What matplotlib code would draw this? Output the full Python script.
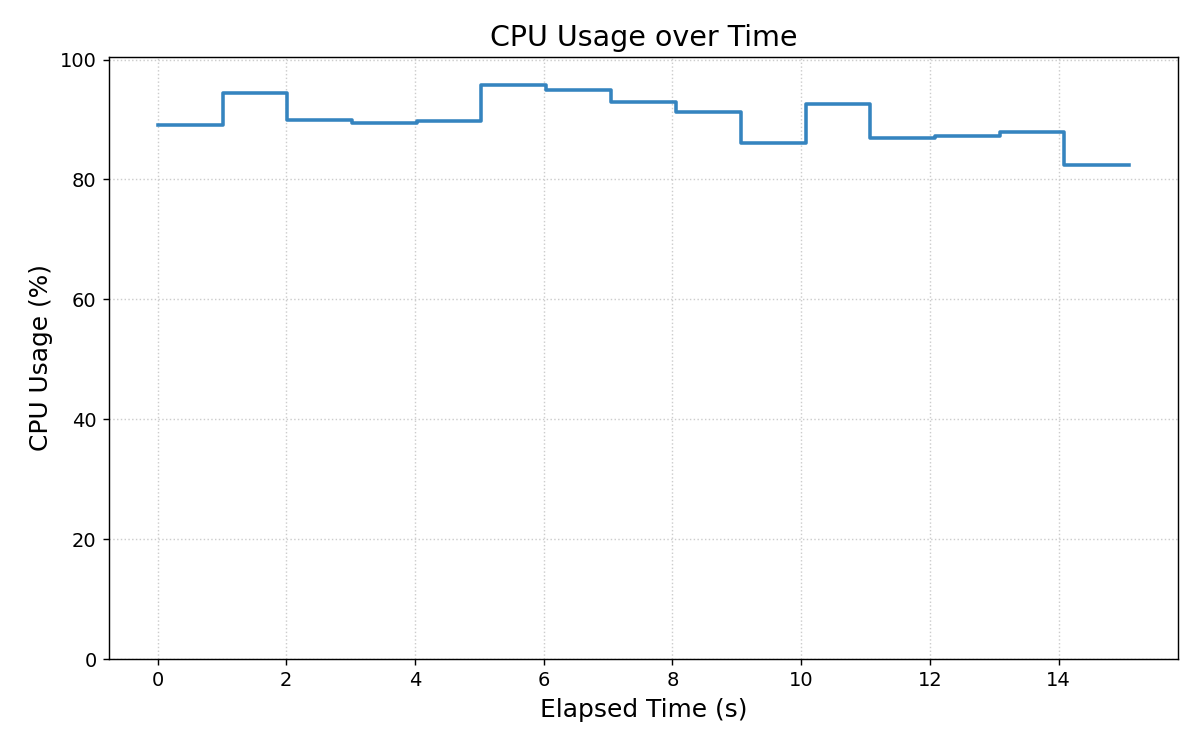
import matplotlib
matplotlib.use("Agg")
import matplotlib.pyplot as plt

elapsed_s = [0.0, 1.01, 2.01, 3.02, 4.03, 5.03, 6.04, 7.05, 8.05, 9.06,
             10.07, 11.07, 12.08, 13.09, 14.09, 15.10]
cpu_pct = [89.15, 94.35, 90.0, 89.5, 89.8, 95.7, 95.0, 93.0, 91.3, 86.1,
           92.55, 87.0, 87.3, 88.0, 82.4, 82.4]

DPI = 128
fig, ax = plt.subplots(figsize=(1200 / DPI, 750 / DPI), dpi=DPI)
ax.step(elapsed_s, cpu_pct, where="post", color="#3584bf", linewidth=2)
ax.set_ylim(0, max(cpu_pct) * 1.05)
ax.set_xticks([0, 2, 4, 6, 8, 10, 12, 14])
ax.grid(True, linestyle=":", color="#cccccc", linewidth=0.8)
ax.set_title("CPU Usage over Time", fontsize=16)
ax.set_xlabel("Elapsed Time (s)", fontsize=14)
ax.set_ylabel("CPU Usage (%)", fontsize=14)
ax.tick_params(labelsize=11)
fig.subplots_adjust(left=0.0908, right=0.9817, top=0.9244, bottom=0.1213)
fig.savefig("out.png", dpi=DPI)
